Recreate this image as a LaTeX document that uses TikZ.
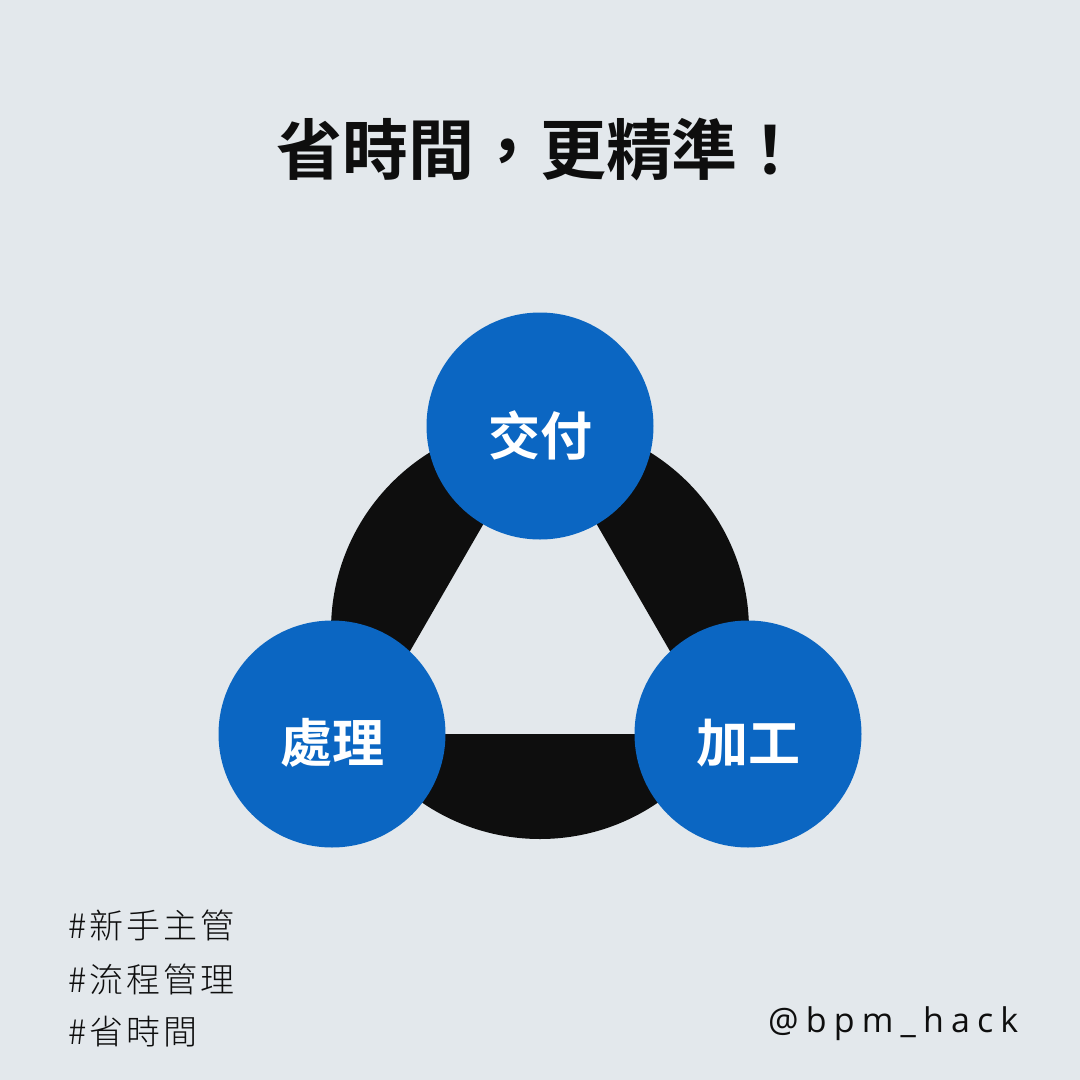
\documentclass[tikz,border=0pt]{standalone}
\usepackage{fontspec}
\setmainfont{Noto Sans CJK TC}
\newfontfamily\cjkbold{Noto Sans CJK TC Bold}
\newfontfamily\cjkreg[LetterSpace=9]{Noto Sans CJK TC Light}
\newfontfamily\handlefont[LetterSpace=21]{Open Sans}
\definecolor{bgc}{HTML}{E3E8EC}
\definecolor{blu}{HTML}{0B66C2}
\definecolor{blk}{HTML}{0E0E0E}
\begin{document}
\begin{tikzpicture}[x=1pt,y=-1pt,
  bubble/.style={circle,fill=blu,minimum size=227pt,inner sep=0pt},
  bublabel/.style={text=white,font=\cjkbold\fontsize{52}{52}\selectfont,inner sep=0pt},
  tag/.style={anchor=west,font=\cjkreg\fontsize{34}{34}\selectfont,text=blk,inner sep=0pt}]
\fill[bgc] (0,0) rectangle (1080,1080);
\useasboundingbox (0,0) rectangle (1080,1080);
\node[font=\cjkbold\fontsize{66}{66}\selectfont,text=blk,inner sep=0pt] (title) at (540,150) {省時間，更精準！};
% black ring: disk minus equilateral triangle
\fill[blk,even odd rule] (540,630) circle[radius=209] (540,426) -- (362.2,734) -- (717.8,734) -- cycle;
\node[bubble] (top) at (540,426) {};
\node[bubble] (left) at (332,734) {};
\node[bubble] (right) at (748,734) {};
\node[bublabel] (toplab) at (540,435) {交付};
\node[bublabel] (leftlab) at (332,743) {處理};
\node[bublabel] (rightlab) at (748,743) {加工};
\node[tag] (t1) at (68,925) {\#新手主管};
\node[tag] (t2) at (68,979) {\#流程管理};
\node[tag] (t3) at (68,1032) {\#省時間};
\node[anchor=west,font=\handlefont\fontsize{34}{34}\selectfont,text=blk,inner sep=0pt] (handle) at (768,1024) {@bpm\_hack};
\end{tikzpicture}
\end{document}
